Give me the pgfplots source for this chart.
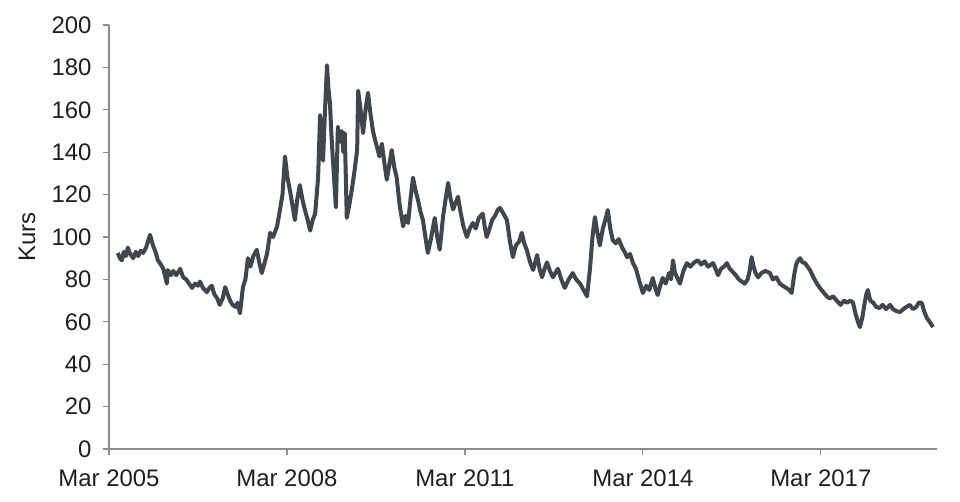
\documentclass[border=0pt]{standalone}
\usepackage{fontspec}
\setmainfont{Liberation Sans}
\usepackage{pgfplots}
\pgfplotsset{compat=1.18}
\definecolor{linec}{HTML}{3F464C}
\definecolor{axc}{HTML}{8C8C8C}
\definecolor{txt}{HTML}{1E1E1E}
\begin{document}
\begin{tikzpicture}
\begin{axis}[
  scale only axis,
  width=828bp, height=424bp,
  xmin=0, xmax=167.5, ymin=0, ymax=200,
  axis lines=left,
  axis line style={-, axc, line width=1.2bp},
  tick style={axc, line width=1.2bp},
  tick align=outside,
  major tick length=6bp,
  xtick={0,36,72,108,144},
  xticklabels={Mar 2005,Mar 2008,Mar 2011,Mar 2014,Mar 2017},
  ytick={0,20,...,200},
  /pgf/number format/assume math mode=true,
  ticklabel style={font=\fontsize{24}{28}\selectfont, text=txt},
  yticklabel style={xshift=-8bp},
  xticklabel style={yshift=-11bp},
  ylabel={Kurs},
  every axis y label/.style={at={(axis description cs:-0.099,0.5)}, rotate=90, anchor=center, font=\fontsize{24}{28}\selectfont, text=txt},
  clip=false,
]
\addplot[linec, line width=4bp, line join=round] coordinates {
(1.8,92.5)(2.2,90)(2.6,89)(3.0,93)(3.4,91)(3.8,95)(4.3,92)(4.9,90)(5.4,93)(5.9,91)
(6.4,93.5)(6.9,92.5)(7.5,95)(8.3,101)(8.9,96)(9.4,93)(9.9,89)(10.5,87)(11.0,85)(11.7,78)
(11.9,84.4)(12.5,82)(13.0,84)(13.6,82)(14.4,85)(15.0,81)(15.6,80)(16.2,78)(16.8,76)(17.4,78)
(18.0,77)(18.4,79)(19.0,76)(19.8,74)(20.3,76)(20.8,77)(21.3,73)(21.9,71)(22.4,68)(23.0,71)
(23.5,76.4)(24.0,73)(24.5,70)(25.0,68)(25.6,67)(26.0,69)(26.5,64)(27.1,76.4)(27.6,80)(28.1,90)
(28.6,86)(29.2,91)(29.9,94)(30.4,88)(30.9,83)(31.5,88)(32.0,92.5)(32.6,102)(33.2,100)(34.0,105)
(34.6,113)(35.1,120)(35.6,138)(36.1,128)(36.6,122)(37.1,115)(37.6,108)(38.1,118)(38.6,124.5)(39.1,118)
(39.6,113)(40.2,108)(40.7,103)(41.2,108)(41.7,111)(42.3,128)(42.7,157.5)(43.0,145)(43.3,136)(43.7,160)
(44.1,181)(44.4,170)(44.7,163)(45.0,148)(45.3,136)(45.6,125)(45.9,114)(46.3,152)(46.7,145)(47.1,150)
(47.4,140)(47.7,149)(48.1,109)(48.6,115)(49.1,122)(49.6,130)(50.2,141)(50.4,169)(50.9,160)(51.4,149)
(51.9,160)(52.4,168)(52.9,158)(53.4,150)(53.8,146)(54.2,142.5)(54.7,138)(55.2,144)(55.7,135)(56.2,127)
(56.7,134)(57.2,141)(57.7,133)(58.2,128)(58.8,115)(59.5,105)(60.0,110)(60.5,106.6)(61.0,118)(61.5,128)
(62.0,122)(62.5,117.5)(63.0,112)(63.5,108)(64.0,100)(64.5,92.5)(65.2,100)(65.9,109)(66.4,100)(66.9,94)
(67.6,110)(68.1,118)(68.6,125.5)(69.1,118)(69.6,113)(70.1,116)(70.6,119)(71.1,112)(71.7,105)(72.4,100)
(73.0,104)(73.6,106.6)(74.2,104)(74.8,109)(75.6,111)(76.0,105)(76.4,100)(77.0,104)(77.5,108)(78.1,110)
(78.7,113)(79.1,113.7)(79.8,111)(80.5,108)(81.1,98)(81.7,90.5)(82.3,96)(83.0,98)(83.5,102)(84.0,97)
(84.5,94)(85.2,88)(85.8,84.4)(86.6,91.5)(87.1,85)(87.6,81)(88.1,85)(88.6,88)(89.2,84)(89.8,81)
(90.3,83)(90.8,85)(91.5,80)(92.2,76)(93.0,80)(93.8,83)(94.5,80)(95.3,78)(96.0,75)(96.7,72)
(97.3,85)(97.8,100)(98.3,109.4)(98.8,102)(99.3,96)(99.9,104)(100.4,108)(100.9,112.7)(101.4,104)(101.9,98.6)
(102.5,97)(103.1,99)(103.8,95)(104.3,93)(104.8,90.5)(105.4,92)(106.0,87.7)(106.6,85)(107.3,79)(108.0,73.6)
(108.7,77)(109.3,75)(110.0,80.7)(110.5,76)(111.0,72.6)(111.5,77)(112.0,80.7)(112.6,78)(113.3,83)(113.7,80)
(114.1,89)(114.5,83)(114.9,81)(115.5,78)(116.2,84)(116.9,87.7)(117.6,86)(118.4,88)(119.1,89)(119.8,87)
(120.5,88.5)(121.2,86)(122.2,87.7)(122.7,85)(123.2,82)(123.8,85)(124.4,86)(125.0,87.7)(125.6,85)(126.2,83.5)
(126.8,82)(127.4,80)(128.0,79)(128.6,78)(129.2,80)(129.6,84)(130.0,90.5)(130.4,86)(130.8,83)(131.3,81)
(132.0,83)(132.8,84)(133.7,83)(134.3,80)(135.0,81)(135.7,78)(136.3,77)(137.0,76)(137.6,75)(138.1,73.6)
(138.6,82)(139.0,87)(139.4,89)(139.8,90)(140.3,88)(140.8,87.7)(141.3,86)(141.8,84.4)(142.5,81)(143.2,78)
(143.8,76)(144.5,74)(145.2,72)(145.8,71)(146.5,72)(147.2,70)(148.0,68)(148.7,70)(149.3,69)(150.0,70)
(150.5,69)(151.0,64)(151.5,60)(151.9,57.5)(152.4,62)(152.8,68)(153.2,73)(153.5,75)(154.0,70)(154.6,69)
(155.2,67)(155.9,66.5)(156.5,68)(157.2,66)(158.0,68)(158.6,66)(159.3,65)(160.0,64.6)(160.7,66)(161.3,67)
(162.0,68)(162.6,66)(163.3,67)(163.8,69)(164.4,69)(164.9,65)(165.4,62)(166.0,60)(166.7,57.5)
};
\end{axis}
\pgfresetboundingbox
\path (current axis.south west) ++(-109bp,-53bp);
\path (current axis.north east) ++(23bp,25bp);
\end{tikzpicture}
\end{document}
